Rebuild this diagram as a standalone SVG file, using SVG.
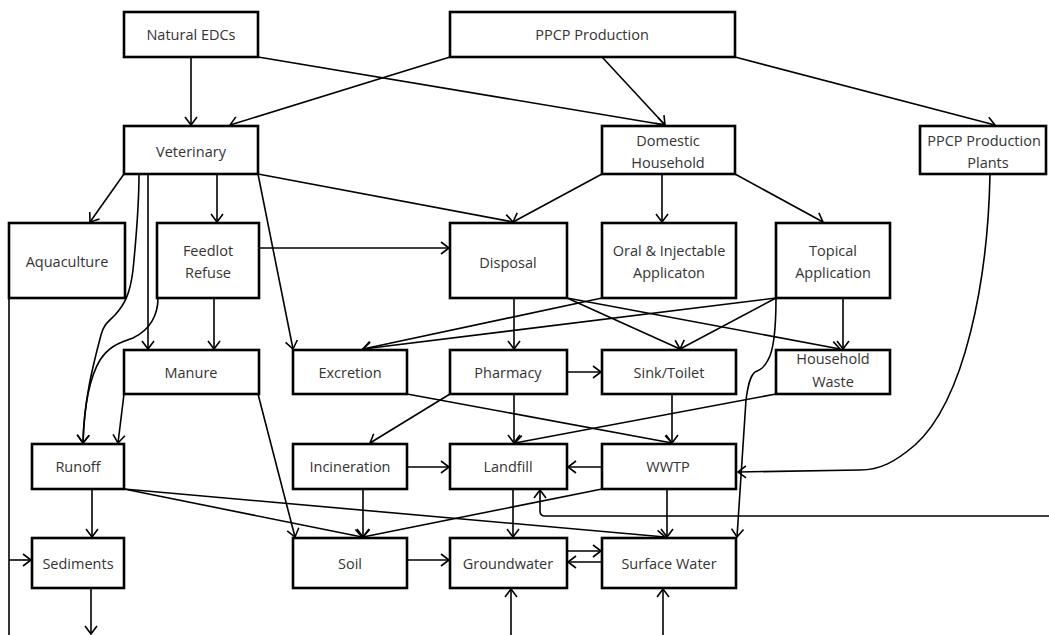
<svg xmlns="http://www.w3.org/2000/svg" width="1049" height="635" viewBox="0 0 1049 635">
<style>
.box{fill:#fff;stroke:#000;stroke-width:2.6}
.t{font-family:"Open Sans","Liberation Sans",sans-serif;font-size:14.5px;fill:#333;text-anchor:middle;dominant-baseline:central}
.c{fill:none;stroke:#000;stroke-width:1.6}
.a{marker-end:url(#ah)}
</style>
<defs>
<marker id="ah" viewBox="0 0 10 14" refX="9" refY="7" markerWidth="10" markerHeight="14" markerUnits="userSpaceOnUse" orient="auto">
<path d="M1,1 L9,7 L1,13" fill="none" stroke="#000" stroke-width="1.6"/>
</marker>
</defs>
<rect width="1049" height="635" fill="#fff"/>
<g id="connectors">
<path class="c a" d="M191,57 L191,125"/>
<path class="c a" d="M258,57 L665,125"/>
<path class="c a" d="M450,57 L230,125"/>
<path class="c a" d="M602,57 L665,125"/>
<path class="c a" d="M735,57 L995,125"/>
<path class="c a" d="M124,174 L90,222"/>
<path class="c a" d="M217,174 L217,222"/>
<path class="c a" d="M148,174 L148,349"/>
<path class="c a" d="M139,174 C139,210 136,240 133,270 C130,295 124,305 115,315 C108,322 104,324 101,335 C93,365 84,400 83,443"/>
<path class="c a" d="M158,298 C158,315 150,330 133,338 C120,343 110,345 100,360 C88,380 84,410 83,443"/>
<path class="c a" d="M258,174 L293,349"/>
<path class="c a" d="M258,174 L513,222"/>
<path class="c a" d="M602,174 L513,222"/>
<path class="c a" d="M662,174 L662,222"/>
<path class="c a" d="M735,174 L823,222"/>
<path class="c a" d="M990,174 C988,280 965,400 915,445 C895,462 880,470 860,470 L738,472"/>
<path class="c a" d="M259,248 L449,248"/>
<path class="c a" d="M214,298 L214,349"/>
<path class="c a" d="M514,298 L514,349"/>
<path class="c a" d="M567,298 L680,349"/>
<path class="c a" d="M567,298 L840,349"/>
<path class="c a" d="M602,298 L363,349"/>
<path class="c a" d="M776,298 L363,349"/>
<path class="c a" d="M776,298 L680,349"/>
<path class="c a" d="M843,298 L843,349"/>
<path class="c a" d="M776,298 C776,330 774,350 768,360 C764,368 760,370 755,372 C750,376 748,385 746,400 L737,537"/>
<path class="c a" d="M567,372 L601,372"/>
<path class="c a" d="M450,394 L370,443"/>
<path class="c a" d="M514,394 L514,443"/>
<path class="c a" d="M407,394 L672,443"/>
<path class="c a" d="M672,394 L672,443"/>
<path class="c a" d="M776,394 L515,443"/>
<path class="c a" d="M407,467 L449,467"/>
<path class="c a" d="M602,467 L568,467"/>
<path class="c a" d="M363,489 L363,537"/>
<path class="c a" d="M602,489 L363,537"/>
<path class="c a" d="M513,489 L513,537"/>
<path class="c a" d="M667,489 L667,537"/>
<path class="c a" d="M1049,516 L545,516 Q540,516 540,511 L540,490"/>
<path class="c a" d="M407,560 L449,560"/>
<path class="c a" d="M567,551 L601,551"/>
<path class="c a" d="M602,562 L568,562"/>
<path class="c a" d="M511,635 L511,589"/>
<path class="c a" d="M663,635 L663,589"/>
<path class="c a" d="M92,489 L92,537"/>
<path class="c a" d="M124,489 L362,537"/>
<path class="c a" d="M124,489 L665,537"/>
<path class="c a" d="M258,394 L295,537"/>
<path class="c a" d="M124,394 L118,443"/>
<path class="c" d="M9,298 L9,635"/>
<path class="c a" d="M9,560 L31,560"/>
<path class="c a" d="M91,588 L91,634"/>
</g>
<g id="natural-edcs"><rect class="box" x="124" y="12" width="134" height="45"/><text class="t" x="191" y="34">Natural EDCs</text></g>
<g id="ppcp-production"><rect class="box" x="450" y="12" width="285" height="45"/><text class="t" x="592" y="34">PPCP Production</text></g>
<g id="veterinary"><rect class="box" x="124" y="126" width="134" height="48"/><text class="t" x="191" y="151">Veterinary</text></g>
<g id="domestic-household"><rect class="box" x="602" y="126" width="133" height="48"/><text class="t" x="668" y="140">Domestic</text><text class="t" x="668" y="162">Household</text></g>
<g id="ppcp-production-plants"><rect class="box" x="920" y="126" width="126" height="48"/><text class="t" x="984" y="140">PPCP Production</text><text class="t" x="988" y="162">Plants</text></g>
<g id="aquaculture"><rect class="box" x="9" y="223" width="116" height="75"/><text class="t" x="67" y="261">Aquaculture</text></g>
<g id="feedlot-refuse"><rect class="box" x="157" y="223" width="102" height="75"/><text class="t" x="208" y="250">Feedlot</text><text class="t" x="208" y="272">Refuse</text></g>
<g id="disposal"><rect class="box" x="450" y="223" width="117" height="75"/><text class="t" x="508" y="262">Disposal</text></g>
<g id="oral-injectable"><rect class="box" x="602" y="223" width="134" height="75"/><text class="t" x="669" y="250">Oral &amp; Injectable</text><text class="t" x="669" y="272">Applicaton</text></g>
<g id="topical-application"><rect class="box" x="776" y="223" width="114" height="75"/><text class="t" x="833" y="250">Topical</text><text class="t" x="833" y="272">Application</text></g>
<g id="manure"><rect class="box" x="124" y="350" width="135" height="44"/><text class="t" x="191" y="372">Manure</text></g>
<g id="excretion"><rect class="box" x="293" y="350" width="114" height="44"/><text class="t" x="350" y="372">Excretion</text></g>
<g id="pharmacy"><rect class="box" x="450" y="350" width="117" height="44"/><text class="t" x="508" y="372">Pharmacy</text></g>
<g id="sink-toilet"><rect class="box" x="602" y="350" width="134" height="44"/><text class="t" x="669" y="372">Sink/Toilet</text></g>
<g id="household-waste"><rect class="box" x="776" y="350" width="114" height="44"/><text class="t" x="833" y="358">Household</text><text class="t" x="833" y="381">Waste</text></g>
<g id="runoff"><rect class="box" x="32" y="444" width="92" height="45"/><text class="t" x="78" y="466">Runoff</text></g>
<g id="incineration"><rect class="box" x="293" y="444" width="114" height="45"/><text class="t" x="350" y="466">Incineration</text></g>
<g id="landfill"><rect class="box" x="450" y="444" width="117" height="45"/><text class="t" x="508" y="466">Landfill</text></g>
<g id="wwtp"><rect class="box" x="602" y="444" width="134" height="45"/><text class="t" x="668" y="466">WWTP</text></g>
<g id="sediments"><rect class="box" x="32" y="538" width="92" height="50"/><text class="t" x="78" y="563">Sediments</text></g>
<g id="soil"><rect class="box" x="293" y="538" width="114" height="50"/><text class="t" x="350" y="563">Soil</text></g>
<g id="groundwater"><rect class="box" x="450" y="538" width="117" height="50"/><text class="t" x="508" y="563">Groundwater</text></g>
<g id="surface-water"><rect class="box" x="602" y="538" width="134" height="50"/><text class="t" x="669" y="563">Surface Water</text></g>
</svg>
